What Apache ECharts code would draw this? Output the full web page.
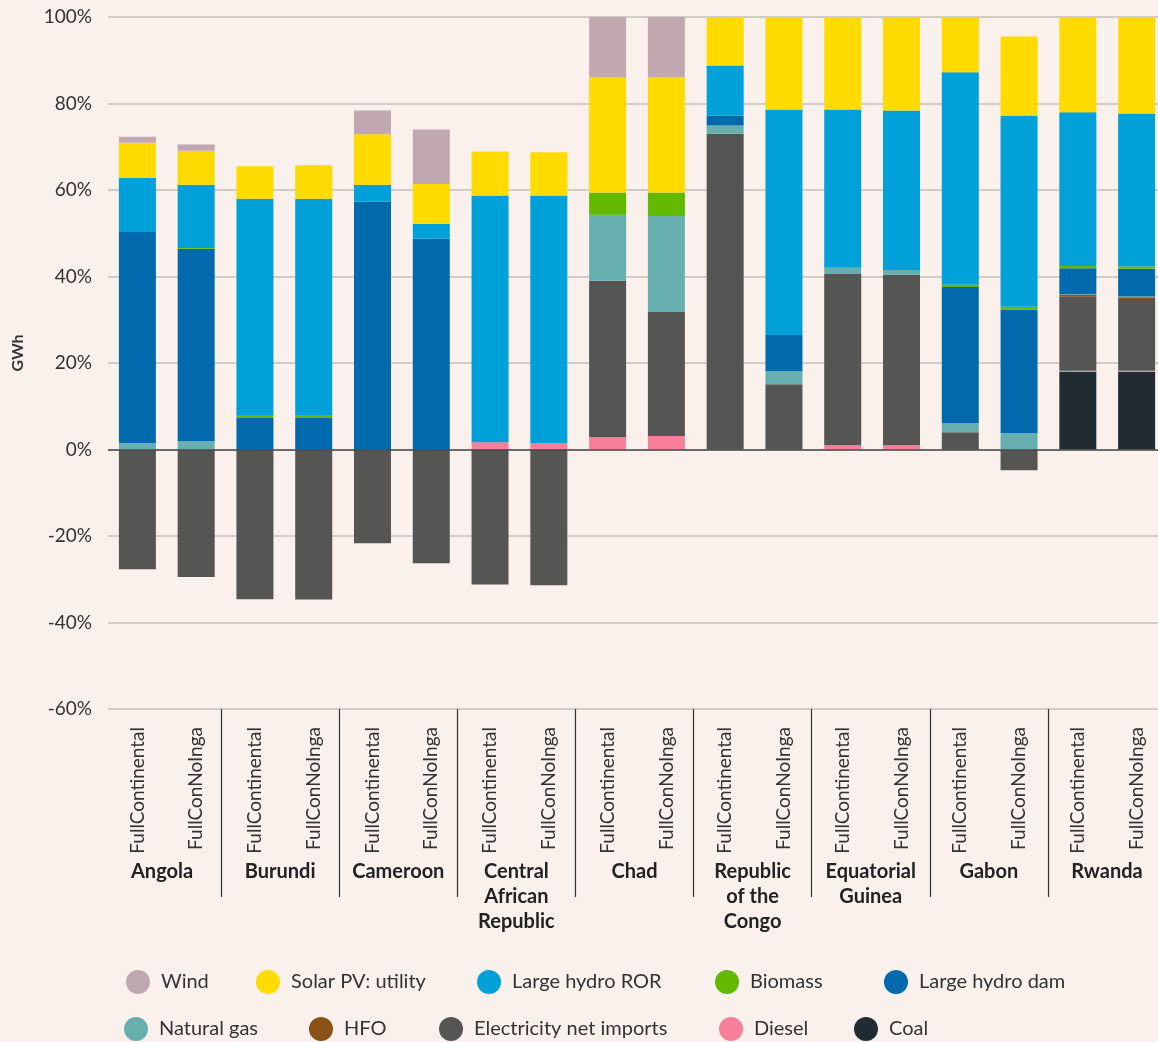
<!DOCTYPE html>
<html>
<head>
<meta charset="utf-8">
<title>Generation mix by country and scenario</title>
<script src="https://cdn.jsdelivr.net/npm/echarts@6/dist/echarts.min.js"></script>
<style>
  html, body { margin: 0; padding: 0; background: #faf1ed; }
  #chart { width: 1158px; height: 1042px; }
</style>
</head>
<body>
<div id="chart"></div>
<script>
// Countries (group labels) and the two scenarios shown for each
const countries = ['Angola', 'Burundi', 'Cameroon', 'Central\nAfrican\nRepublic', 'Chad',
  'Republic\nof the\nCongo', 'Equatorial\nGuinea', 'Gabon', 'Rwanda'];
const scenarios = ['FullContinental', 'FullConNoInga'];
const yTicks = [-60, -40, -20, 0, 20, 40, 60, 80, 100];

// Share of generation (%), one value per bar: country x scenario
const coal     = [0, 0, 0, 0, 0, 0, 0, 0, 0, 0, 0, 0, 0, 0, 0, 0, 17.9, 17.9];
const diesel   = [0, 0, 0, 0, 0, 0, 1.7, 1.5, 2.9, 3.1, 0, 0, 1.0, 1.0, 0, 0, 0.3, 0.3];
const imports  = [-27.7, -29.5, -34.6, -34.7, -21.7, -26.3, -31.2, -31.4, 36.1, 28.7, 73.0, 15.1, 39.6, 39.4, 4.0, -4.8, 17.1, 16.6];
const hfo      = [0, 0, 0, 0, 0, 0, 0, 0, 0, 0, 0, 0, 0, 0, 0, 0, 0.4, 0.4];
const gas      = [1.5, 1.9, 0, 0, 0, 0, 0, 0, 15.3, 22.2, 1.9, 3.0, 1.4, 1.1, 2.1, 3.8, 0.2, 0.2];
const hydroDam = [48.8, 44.5, 7.3, 7.3, 57.3, 48.7, 0, 0, 0, 0, 2.3, 8.4, 0, 0, 31.5, 28.5, 6.0, 6.4];
const biomass  = [0, 0.2, 0.7, 0.7, 0, 0, 0, 0, 5.1, 5.4, 0, 0, 0, 0, 0.5, 0.7, 0.5, 0.5];
const hydroRor = [12.5, 14.6, 50.0, 50.0, 3.9, 3.5, 57.0, 57.2, 0, 0, 11.6, 52.1, 36.6, 36.9, 49.1, 44.2, 35.6, 35.4];
const solar    = [8.1, 7.9, 7.5, 7.7, 11.7, 9.2, 10.2, 10.0, 26.6, 26.6, 11.2, 21.4, 21.4, 21.6, 12.8, 18.3, 21.9, 22.3];
const wind     = [1.4, 1.4, 0, 0, 5.5, 12.6, 0, 0, 14.0, 14.0, 0, 0, 0, 0, 0, 0, 0, 0];

// Stack order, bottom to top
const stackSeries = [
  { name: 'Coal', data: coal, color: '#202c32' },
  { name: 'Diesel', data: diesel, color: '#f87f9a' },
  { name: 'Electricity net imports', data: imports, color: '#555553' },
  { name: 'HFO', data: hfo, color: '#8b5216' },
  { name: 'Natural gas', data: gas, color: '#67aeae' },
  { name: 'Large hydro dam', data: hydroDam, color: '#006aad' },
  { name: 'Biomass', data: biomass, color: '#63b900' },
  { name: 'Large hydro ROR', data: hydroRor, color: '#00a0d9' },
  { name: 'Solar PV: utility', data: solar, color: '#ffdb00' },
  { name: 'Wind', data: wind, color: '#c1a8b0' }
];

// Legend entries laid out in two rows
const legendSlots = [
  { name: 'Wind', left: 126, top: 970 },
  { name: 'Solar PV: utility', left: 256, top: 970 },
  { name: 'Large hydro ROR', left: 477, top: 970 },
  { name: 'Biomass', left: 715, top: 970 },
  { name: 'Large hydro dam', left: 884, top: 970 },
  { name: 'Natural gas', left: 124, top: 1017 },
  { name: 'HFO', left: 309, top: 1017 },
  { name: 'Electricity net imports', left: 439, top: 1017 },
  { name: 'Diesel', left: 719, top: 1017 },
  { name: 'Coal', left: 854, top: 1017 }
];

const FONT = 'Lato';
const barLabels = [];
countries.forEach(() => scenarios.forEach(s => barLabels.push(s)));

const series = stackSeries.map((s, i) => {
  const item = {
    name: s.name,
    type: 'bar',
    stack: 'mix',
    xAxisIndex: 0,
    yAxisIndex: 0,
    barWidth: 37,
    itemStyle: { color: s.color },
    emphasis: { disabled: true },
    data: s.data
  };
  if (i === 0) {
    // darker zero line drawn over the bars
    item.markLine = {
      silent: true,
      symbol: 'none',
      label: { show: false },
      lineStyle: { color: '#4a4a4a', width: 1.5, type: 'solid' },
      data: [{ yAxis: 0 }],
      z: 10
    };
  }
  return item;
});

const chart = echarts.init(document.getElementById('chart'));
chart.setOption({
  backgroundColor: '#faf1ed',
  animation: false,
  textStyle: { fontFamily: FONT },
  grid: [
    { left: 108, top: 17, width: 1058, height: 692, outerBoundsMode: 'none' },
    { left: 103, top: 17, width: 1063, height: 692, outerBoundsMode: 'none' }
  ],
  legend: legendSlots.map(l => ({
    data: [l.name],
    left: l.left,
    top: l.top,
    padding: 0,
    icon: 'circle',
    itemWidth: 24,
    itemHeight: 24,
    selectedMode: false,
    textStyle: { fontFamily: FONT, fontSize: 20, color: '#333', padding: [0, 0, 0, 6] }
  })),
  xAxis: [
    {
      type: 'category',
      gridIndex: 0,
      data: barLabels,
      position: 'bottom',
      axisLine: { show: false, onZero: false },
      axisTick: { show: false },
      axisLabel: {
        interval: 0,
        rotate: 90,
        margin: 18,
        fontFamily: FONT,
        fontSize: 19,
        color: '#333'
      }
    },
    {
      // country groups with separator ticks between them
      type: 'category',
      gridIndex: 1,
      data: countries,
      position: 'bottom',
      axisLine: { show: false, onZero: false },
      axisTick: {
        show: true,
        length: 188,
        interval: (idx) => idx > 0,
        lineStyle: { color: '#333', width: 1.2 }
      },
      axisLabel: {
        interval: 0,
        margin: 150,
        fontFamily: FONT,
        fontSize: 20,
        fontWeight: 'bold',
        lineHeight: 25,
        color: '#222',
        align: 'center'
      }
    }
  ],
  yAxis: [
    {
      type: 'value',
      gridIndex: 0,
      min: yTicks[0],
      max: yTicks[yTicks.length - 1],
      interval: 20,
      axisLine: { show: false },
      axisTick: { show: false },
      splitLine: { show: true, lineStyle: { color: '#c4bfbd', width: 1.5 } },
      axisLabel: {
        margin: 16,
        fontFamily: FONT,
        fontSize: 19,
        color: '#333',
        formatter: '{value}%'
      }
    },
    {
      type: 'value',
      gridIndex: 1,
      min: yTicks[0],
      max: yTicks[yTicks.length - 1],
      show: false
    }
  ],
  graphic: [{
    type: 'text',
    x: 18,
    y: 353,
    rotation: Math.PI / 2,
    style: {
      text: 'GWh',
      font: 'bold 16px Lato',
      fill: '#333',
      textAlign: 'center',
      textVerticalAlign: 'middle'
    }
  }],
  series: series
});
</script>
</body>
</html>
